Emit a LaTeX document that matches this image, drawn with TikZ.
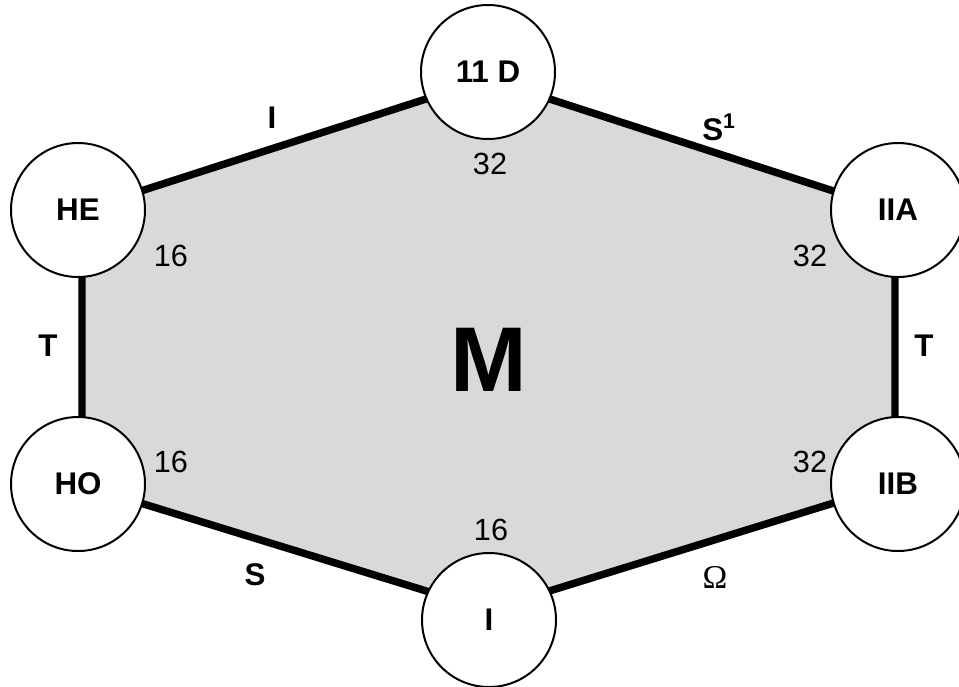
\documentclass[tikz,border=0pt]{standalone}
\usepackage{fontspec}
\setmainfont{Liberation Sans}
\newfontfamily\serifomega{Liberation Serif}
\begin{document}
\begin{tikzpicture}[x=0.75pt,y=-0.75pt,
  state/.style={circle,draw=black,line width=1.5pt,fill=white,minimum size=100.5pt,inner sep=0pt,font=\fontsize{23.5}{23.5}\selectfont\bfseries},
  edgelab/.style={font=\fontsize{23.5}{23.5}\selectfont\bfseries},
  num/.style={font=\fontsize{23}{23}\selectfont},
  hexedge/.style={line width=5.6pt,line join=miter}]
\useasboundingbox (0,0) rectangle (959,686);
\clip (0,0) rectangle (959,686);
\coordinate (vHE) at (82,210);
\coordinate (vD) at (488,79);
\coordinate (vIIA) at (895,211);
\coordinate (vIIB) at (895,484);
\coordinate (vI) at (488,610);
\coordinate (vHO) at (82,485);
\fill[fill={rgb,255:red,217;green,217;blue,217}] (vHE) -- (vD) -- (vIIA) -- (vIIB) -- (vI) -- (vHO) -- cycle;
\draw[hexedge] (vHE) -- (vD) -- (vIIA) -- (vIIB) -- (vI) -- (vHO) -- cycle;
\node[state] (D) at (488,72) {11 D};
\node[state] (HE) at (78,210) {HE};
\node[state] (IIA) at (898,210) {IIA};
\node[state] (HO) at (78,484) {HO};
\node[state] (IIB) at (898,484) {IIB};
\node[state] (I) at (489,620) {I};
\node[font=\fontsize{69}{69}\selectfont\bfseries] (M) at (489,360) {M};
\node[num] (nD) at (490,164) {32};
\node[num] (nHE) at (171,256) {16};
\node[num] (nIIA) at (810,256) {32};
\node[num] (nHO) at (171,462) {16};
\node[num] (nIIB) at (810,462) {32};
\node[num] (nI) at (491,530) {16};
\node[edgelab] (lI) at (272,118) {I};
\node[edgelab,anchor=base west,inner sep=0pt] (lS1) at (702,140) {S\raisebox{9pt}{\fontsize{16}{16}\selectfont\bfseries 1}};
\node[edgelab] (lTl) at (48,346) {T};
\node[edgelab] (lTr) at (924,346) {T};
\node[edgelab] (lS) at (255,575) {S};
\node[font=\fontsize{25}{25}\selectfont\serifomega] (lO) at (715,577) {Ω};
\end{tikzpicture}
\end{document}
